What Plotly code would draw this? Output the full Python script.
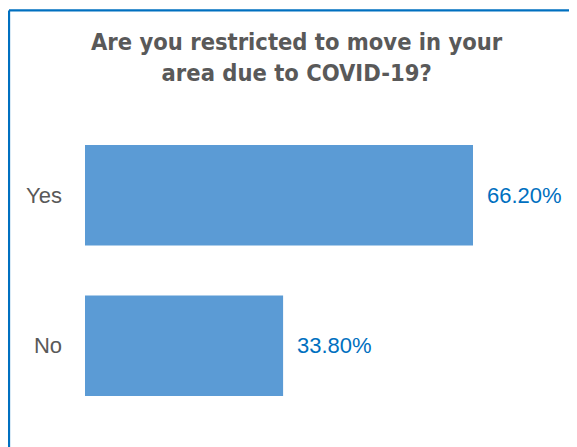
import plotly.graph_objects as go

categories = ["Yes", "No"]
values = [66.2, 33.8]
value_labels = ["66.20%", "33.80%"]
title_lines = ["Are you restricted to move in your", "area due to COVID-19?"]

W, H = 569, 439
L, R, T, B = 77, 15, 112, 26
pw, ph = W - L - R, H - T - B

fig = go.Figure(go.Bar(
    y=categories, x=values, orientation="h",
    marker=dict(color="#5B9BD5", line=dict(width=0)),
    hoverinfo="skip",
))

annotations = [
    dict(x=v, y=c, xref="x", yref="y", text=t, showarrow=False,
         xanchor="left", yanchor="middle", xshift=12,
         font=dict(family="Liberation Sans", size=22, color="#0070C0"))
    for c, v, t in zip(categories, values, value_labels)
]
annotations.append(dict(
    x=(289 - L) / pw, y=1 + (T - 50) / ph, xref="paper", yref="paper",
    text="<br>".join("<b>" + s + "</b>" for s in title_lines),
    showarrow=False, xanchor="center", yanchor="middle",
    font=dict(family="DejaVu Sans Condensed", size=23.5, color="#595959"),
))

top_y = 1 + (T - 2.4) / ph
left_x = (1 - L) / pw
right_x = (W - L) / pw
bottom_y = -B / ph
border = dict(color="#0070C0", width=2.3)

fig.update_layout(
    width=W, height=H,
    margin=dict(l=L, r=R, t=T, b=B),
    paper_bgcolor="white", plot_bgcolor="white",
    bargap=0.332,
    showlegend=False,
    xaxis=dict(range=[0, pw * 66.2 / 388], visible=False, fixedrange=True),
    yaxis=dict(autorange="reversed", showgrid=False, zeroline=False,
               showline=False, ticks="", ticklabelstandoff=22,
               tickfont=dict(family="Liberation Sans", size=22, color="#595959")),
    annotations=annotations,
    shapes=[
        dict(type="line", xref="paper", yref="paper",
             x0=left_x, x1=right_x, y0=top_y, y1=top_y,
             line=border, layer="above"),
        dict(type="line", xref="paper", yref="paper",
             x0=left_x, x1=left_x, y0=bottom_y, y1=top_y,
             line=border, layer="above"),
    ],
)

fig.write_html("out.html")
